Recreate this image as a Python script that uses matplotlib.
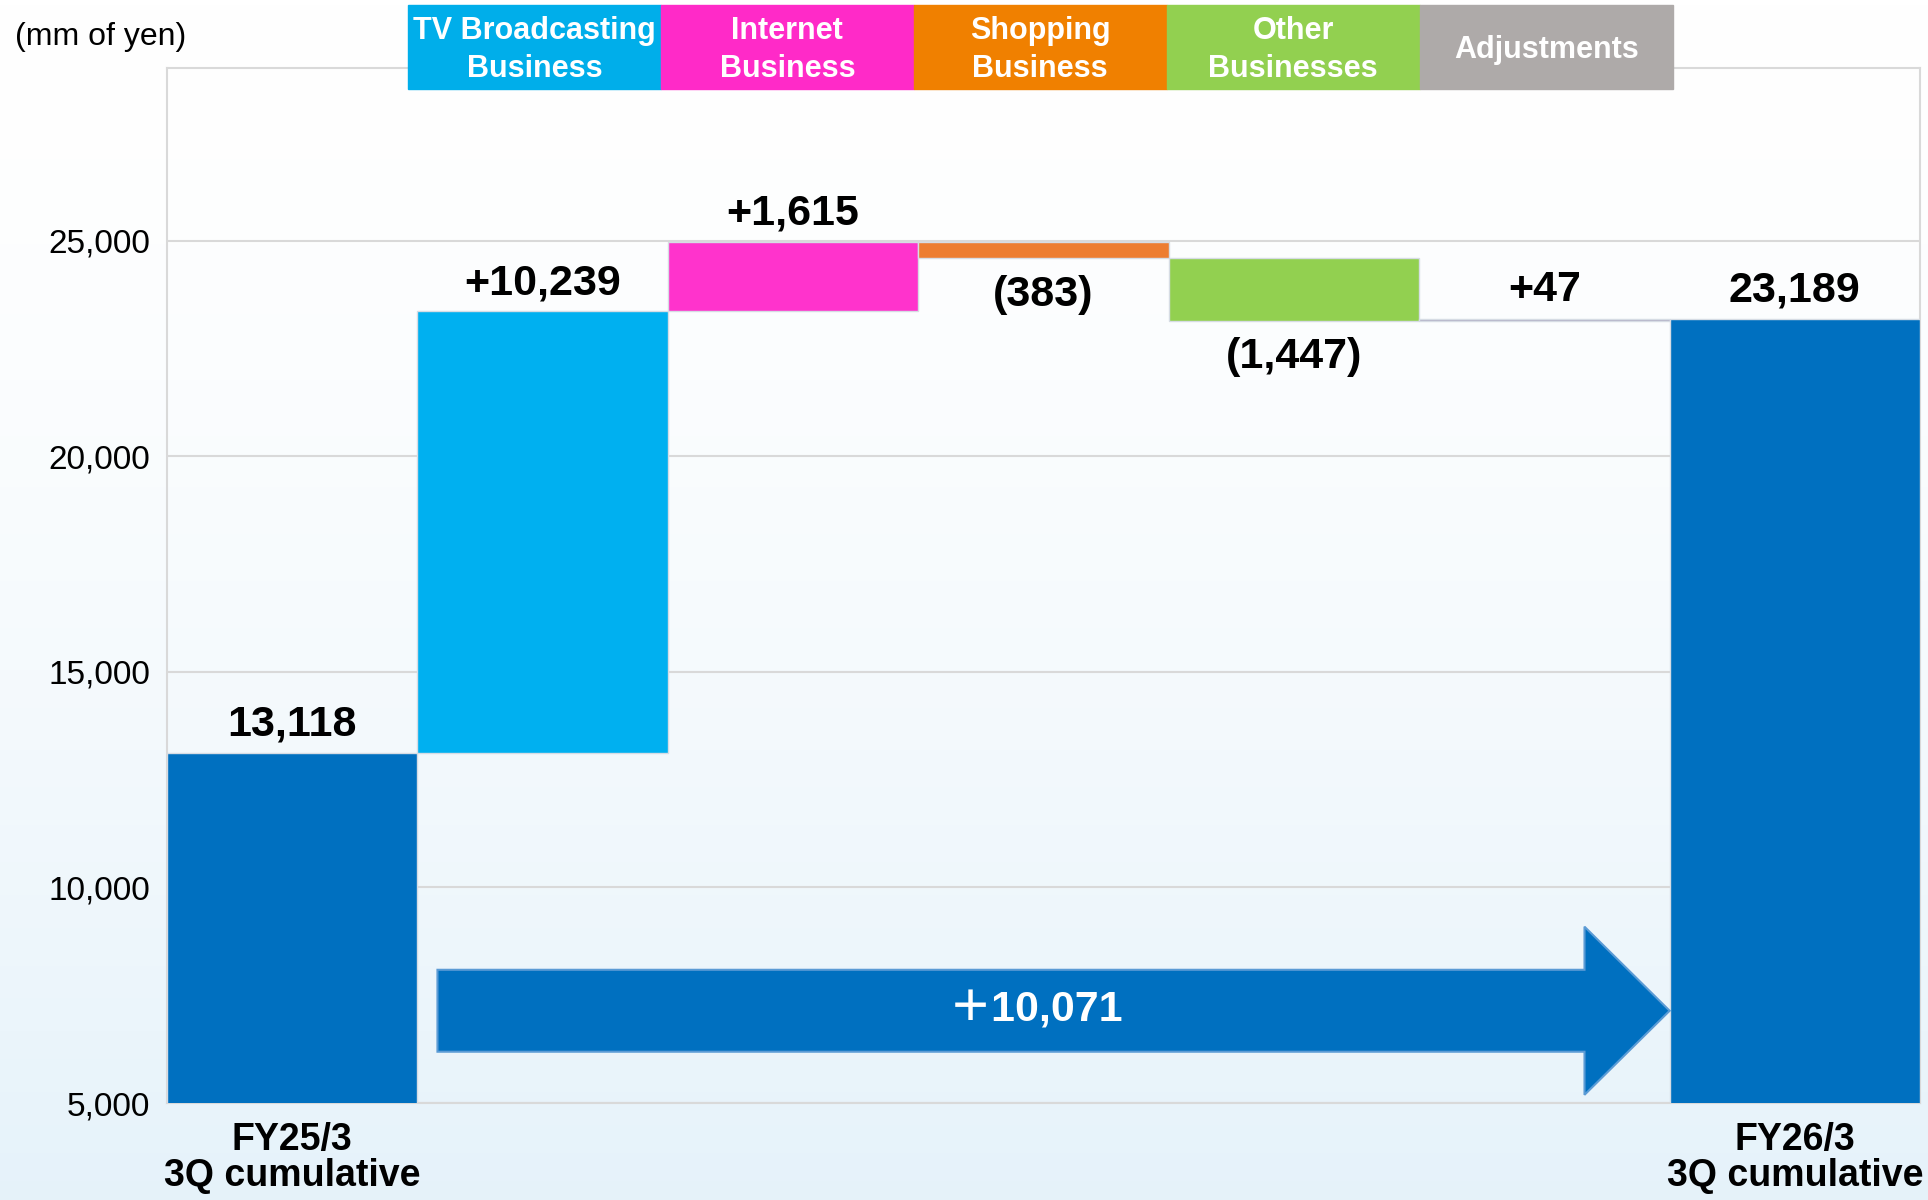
import matplotlib
matplotlib.use("Agg")
import matplotlib.pyplot as plt
import matplotlib.transforms as mtransforms
from matplotlib.patches import Rectangle, Polygon
import numpy as np

# data
start_label = "FY25/3\n3Q cumulative"
end_label = "FY26/3\n3Q cumulative"
segments = ["TV Broadcasting\nBusiness", "Internet\nBusiness", "Shopping\nBusiness",
            "Other\nBusinesses", "Adjustments"]
start_value = 13118
deltas = [10239, 1615, -383, -1447, 47]
end_value = 23189
y_ticks = [5000, 10000, 15000, 20000, 25000]

# barvy
c_total = "#0070C0"
bar_colors = ["#00B0F0", "#FF33CC", "#ED7D31", "#92D050", "#A9A6BF"]
head_colors = ["#00AEEA", "#FF2AC8", "#F08000", "#92D050", "#AEAAA9"]

FONT = ["Liberation Sans", "DejaVu Sans"]

fig = plt.figure(figsize=(19.28, 12), dpi=100)

# pozadi s prechodem
bg = fig.add_axes([0, 0, 1, 1], zorder=-10)
grad = np.linspace(0, 1, 256).reshape(-1, 1)
top = np.array([1.0, 1.0, 1.0])
bottom = np.array([0.90, 0.95, 0.98])
img = top + (bottom - top) * grad[:, :, None] ** 1.6
bg.imshow(img, aspect="auto", extent=[0, 1, 0, 1])
bg.axis("off")

ax = fig.add_axes([0.0866, 0.0808, 0.9093, 0.8625])
ax.set_facecolor("none")

n = len(deltas) + 2
x = np.arange(n)

# vypocet vodopadu
levels = start_value + np.cumsum([0] + deltas)
prev = levels[:-1]
bottoms = np.minimum(prev, prev + np.array(deltas))
heights = np.abs(deltas)

ax.bar(x[0], start_value, width=1.0, color=c_total, edgecolor="#D6DCE4", lw=1, zorder=3)
ax.bar(x[1:-1], heights, bottom=bottoms, width=1.0, color=bar_colors,
       edgecolor="#D6DCE4", lw=1, zorder=3)
ax.bar(x[-1], end_value, width=1.0, color=c_total, edgecolor="#D6DCE4", lw=1, zorder=3)

lab_font = dict(family=FONT, fontweight="bold", fontsize=31)

# popisky hodnot
ax.annotate(f"{start_value:,}", (x[0], start_value), xytext=(0, 6),
            textcoords="offset points", ha="center", va="bottom", **lab_font)
for i, d in enumerate(deltas):
    if d >= 0:
        ax.annotate(f"+{d:,}", (x[i + 1], bottoms[i] + heights[i]), xytext=(0, 6),
                    textcoords="offset points", ha="center", va="bottom", **lab_font)
    else:
        ax.annotate(f"({-d:,})", (x[i + 1], bottoms[i]), xytext=(0, -12),
                    textcoords="offset points", ha="center", va="top", **lab_font)
ax.annotate(f"{end_value:,}", (x[-1], end_value), xytext=(0, 6),
            textcoords="offset points", ha="center", va="bottom", **lab_font)

# hlavicky segmentu
trans = mtransforms.blended_transform_factory(ax.transData, ax.transAxes)
box_w = 1.01
for i, (name, col) in enumerate(zip(segments, head_colors)):
    left = x[1] - 0.538 + i * box_w
    ax.add_patch(Rectangle((left, 0.98), box_w, 0.081, transform=trans,
                           color=col, clip_on=False, zorder=5))
    ax.text(left + box_w / 2, 1.017, name, transform=trans, ha="center", va="center",
            color="white", fontsize=22, fontweight="bold", family=FONT,
            linespacing=1.35, zorder=6)

# velka sipka s rozdilem
diff = end_value - start_value
x0, xh, xt = 0.58, 5.16, n - 1.5
ym, hb, hh = 7140, 950, 1950
arrow = Polygon([(x0, ym - hb), (xh, ym - hb), (xh, ym - hh), (xt, ym),
                 (xh, ym + hh), (xh, ym + hb), (x0, ym + hb)],
                closed=True, facecolor=c_total, edgecolor="#5B9BD5", lw=1.5, zorder=4)
ax.add_patch(arrow)
ax.text(2.97, ym, f"＋{diff:,}", ha="center", va="center", color="white",
        fontsize=31, fontweight="bold", family=["Liberation Sans", "Noto Sans CJK JP"], zorder=5)

# osy
ax.set_xlim(-0.5, n - 0.5)
ax.set_ylim(5000, 29000)
ax.set_yticks(y_ticks)
ax.set_yticklabels([f"{v:,}" for v in y_ticks], family=FONT, fontsize=24)
ax.set_xticks([x[0], x[-1]])
ax.set_xticklabels([start_label, end_label], family=FONT,
                   fontsize=27, fontweight="bold", linespacing=1.0)
ax.tick_params(axis="both", length=0)
ax.tick_params(axis="y", pad=12)
ax.tick_params(axis="x", pad=14)
ax.grid(axis="y", color="#D9D9D9", lw=1.5, zorder=0)
for s in ax.spines.values():
    s.set_color("#D9D9D9")
    s.set_linewidth(1.5)

fig.text(15 / 1928, 1 - 37 / 1200, "(mm of yen)", ha="left", va="center",
         fontsize=23, family=FONT)

fig.savefig("out.png", dpi=100)
